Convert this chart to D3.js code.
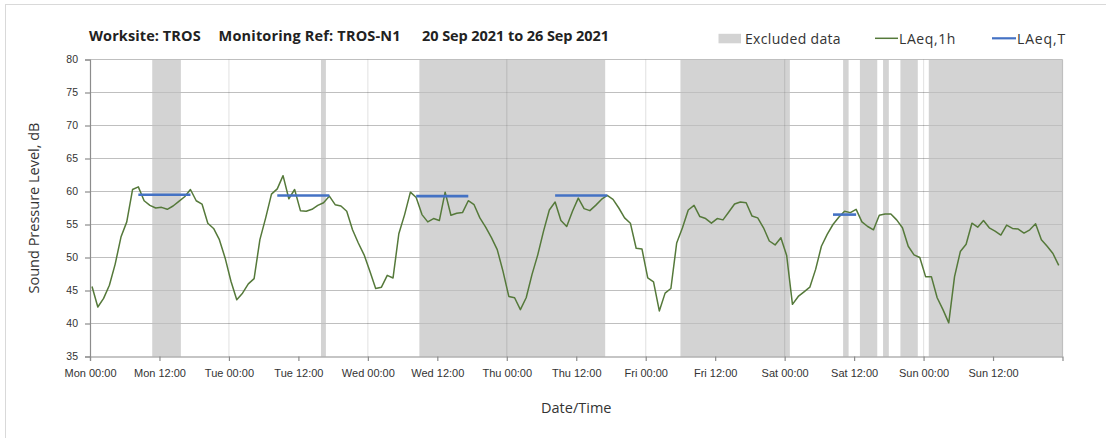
<!DOCTYPE html>
<html>
<head>
<meta charset="utf-8">
<script src="https://cdn.jsdelivr.net/npm/d3@7"></script>
<style>
  body { margin: 0; background: #fff; }
  svg { display: block; font-family: "Open Sans", "Noto Sans", sans-serif; }
</style>
</head>
<body>
<div id="chart"></div>
<script>
// hourly LAeq,1h values, one array per day (Mon 20 Sep .. Sun 26 Sep 2021)
const laeq1hMon = [45.6, 42.5, 43.8, 45.8, 49.0, 53.1, 55.4, 60.3, 60.7, 58.6, 57.9, 57.5, 57.6, 57.3, 57.8, 58.5, 59.2, 60.3, 58.6, 58.1, 55.2, 54.4, 52.7, 49.9]
const laeq1hTue = [46.4, 43.6, 44.6, 46.0, 46.8, 52.7, 56.0, 59.6, 60.4, 62.4, 58.9, 60.3, 57.1, 57.0, 57.3, 57.9, 58.3, 59.3, 58.0, 57.8, 57.0, 54.2, 52.2, 50.4]
const laeq1hWed = [47.9, 45.3, 45.5, 47.3, 46.9, 53.6, 56.5, 59.9, 59.1, 56.5, 55.4, 55.9, 55.6, 59.9, 56.4, 56.7, 56.8, 58.6, 58.0, 56.0, 54.6, 53.0, 51.2, 47.9]
const laeq1hThu = [44.1, 43.9, 42.1, 43.9, 47.4, 50.4, 54.0, 57.2, 58.4, 55.6, 54.7, 57.0, 59.0, 57.4, 57.1, 57.9, 58.8, 59.4, 58.8, 57.5, 56.0, 55.2, 51.4, 51.3]
const laeq1hFri = [46.9, 46.3, 41.9, 44.6, 45.3, 52.2, 54.5, 57.2, 57.9, 56.2, 55.9, 55.2, 55.9, 55.7, 56.9, 58.1, 58.4, 58.3, 56.3, 56.0, 54.5, 52.5, 51.9, 53.0]
const laeq1hSat = [50.3, 42.9, 44.1, 44.8, 45.5, 48.2, 51.7, 53.5, 55.0, 56.1, 57.0, 56.8, 57.3, 55.4, 54.7, 54.2, 56.4, 56.6, 56.6, 55.7, 54.5, 51.7, 50.4, 50.0]
const laeq1hSun = [47.1, 47.1, 43.9, 42.1, 40.1, 47.1, 50.9, 52.0, 55.2, 54.6, 55.6, 54.5, 54.0, 53.4, 54.9, 54.4, 54.3, 53.7, 54.2, 55.1, 52.7, 51.7, 50.6, 48.8]

// LAeq,T daytime periods (hour index from Mon 00:00)
const laeqTStart = [8, 32, 56, 80, 128]
const laeqTEnd = [17, 41, 65, 89, 132]
const laeqTValue = [59.5, 59.4, 59.3, 59.4, 56.5]

// excluded data periods, hours from Mon 00:00
const excludedStart = [10.75, 39.9, 56.9, 102, 130.1, 133, 137, 140, 144.9]
const excludedEnd = [15.7, 40.75, 89, 120.9, 131.05, 136, 138, 143, 168]

const dayNames = ['Mon', 'Tue', 'Wed', 'Thu', 'Fri', 'Sat', 'Sun']
const yTicks = [35, 40, 45, 50, 55, 60, 65, 70, 75, 80]
const xTickHours = d3.range(0, 168, 12)
const xTickLabels = xTickHours.map(h => `${dayNames[Math.floor(h / 24)]} ${h % 24 === 0 ? '00' : '12'}:00`)
const titleParts = ['Worksite: TROS', 'Monitoring Ref: TROS-N1', '20 Sep 2021 to 26 Sep 2021']
const legendLabels = ['Excluded data', 'LAeq,1h', 'LAeq,T']

const width = 1106
const height = 438
const plot = { left: 90, right: 1062.5, top: 59.5, bottom: 356.5 }
const pointOffset = 0.35

const allValues = [].concat(laeq1hMon, laeq1hTue, laeq1hWed, laeq1hThu, laeq1hFri, laeq1hSat, laeq1hSun)

// stretch a text to a given width with letter spacing (the original font is wider)
const fitWidth = (sel, target) => {
    sel.each(function () {
        const n = this.getNumberOfChars()
        const w = this.getComputedTextLength()
        d3.select(this).attr('letter-spacing', ((target - w) / n).toFixed(2))
    })
}

const svg = d3.select('#chart')
            .append('svg')
            .attr('width', width)
            .attr('height', height)

svg.append('rect')
   .attr('x', 5.5).attr('y', 4.5)
   .attr('width', 1110).attr('height', 450)
   .attr('fill', 'none')
   .attr('stroke', '#d9d9d9')

const x = d3.scaleLinear()
            .domain([0, 168])
            .range([plot.left, plot.right])

const y = d3.scaleLinear()
            .domain([35, 80])
            .range([plot.bottom, plot.top])

// excluded bands
svg.append('g')
   .selectAll('rect')
   .data(excludedStart)
   .enter()
   .append('rect')
   .attr('x', d => x(d))
   .attr('y', plot.top)
   .attr('width', (d, i) => x(excludedEnd[i]) - x(d))
   .attr('height', plot.bottom - plot.top)
   .attr('fill', '#d3d3d3')

// gridlines
svg.append('g')
   .selectAll('line')
   .data(yTicks.slice(1))
   .enter()
   .append('line')
   .attr('x1', plot.left).attr('x2', plot.right)
   .attr('y1', d => y(d)).attr('y2', d => y(d))
   .attr('stroke', '#bfbfbf')
   .attr('stroke-width', 1.2)

svg.append('g')
   .selectAll('line')
   .data(d3.range(24, 169, 24))
   .enter()
   .append('line')
   .attr('x1', d => x(d)).attr('x2', d => x(d))
   .attr('y1', plot.top).attr('y2', plot.bottom)
   .attr('stroke', d => d === 168 ? '#bfbfbf' : 'rgba(0,0,0,0.1)')
   .attr('stroke-width', 1.2)

// axes
const yAxis = svg.append('g')
   .attr('transform', `translate(${plot.left}, 0)`)
   .call(d3.axisLeft(y).tickValues(yTicks).tickSize(5).tickPadding(7))
yAxis.selectAll('text').attr('font-size', 10.5).attr('fill', '#333').attr('font-family', 'inherit')

const xAxis = svg.append('g')
   .attr('transform', `translate(0, ${plot.bottom})`)
   .call(d3.axisBottom(x).tickValues(xTickHours).tickSize(4.5).tickPadding(8)
           .tickFormat((d, i) => xTickLabels[i]))
xAxis.selectAll('text').attr('font-size', 11).attr('fill', '#333').attr('font-family', 'inherit')

svg.selectAll('.domain, .tick line').attr('stroke', '#8c8c8c').attr('stroke-width', 1.2)

// LAeq,1h line
const line = d3.line()
               .x((_, i) => x(i + pointOffset))
               .y(d => y(d))

svg.append('path')
   .datum(allValues)
   .attr('fill', 'none')
   .attr('stroke', '#55793a')
   .attr('stroke-width', 1.5)
   .attr('stroke-linejoin', 'round')
   .attr('d', line)

// LAeq,T segments
svg.append('g')
   .selectAll('line')
   .data(laeqTValue)
   .enter()
   .append('line')
   .attr('x1', (_, i) => x(laeqTStart[i] + pointOffset))
   .attr('x2', (_, i) => x(laeqTEnd[i] + pointOffset))
   .attr('y1', d => y(d)).attr('y2', d => y(d))
   .attr('stroke', '#4472c4')
   .attr('stroke-width', 2.6)

// axis titles
svg.append('text')
   .attr('transform', `translate(39, ${(plot.top + plot.bottom) / 2}) rotate(-90)`)
   .attr('text-anchor', 'middle')
   .attr('font-size', 14.5)
   .attr('fill', '#333')
   .text('Sound Pressure Level, dB')

svg.append('text')
   .attr('x', (plot.left + plot.right) / 2)
   .attr('y', 413)
   .attr('text-anchor', 'middle')
   .attr('font-size', 14.5)
   .attr('fill', '#333')
   .text('Date/Time')

// title
const titleX = [89, 218.6, 422]
const titleEnd = [200.7, 400.7, 609]
svg.append('g')
   .selectAll('text')
   .data(titleParts)
   .enter()
   .append('text')
   .attr('x', (_, i) => titleX[i])
   .attr('y', 41)
   .attr('font-size', 14.5)
   .attr('font-weight', 'bold')
   .attr('fill', '#222')
   .text(d => d)
   .each(function (_, i) { fitWidth(d3.select(this), titleEnd[i] - titleX[i]) })

// legend
const legend = svg.append('g').attr('font-size', 14).attr('fill', '#333')
legend.append('rect')
      .attr('x', 718.5).attr('y', 33.8).attr('width', 22.5).attr('height', 9.5)
      .attr('fill', '#d3d3d3')
legend.append('line')
      .attr('x1', 875).attr('x2', 898).attr('y1', 38.3).attr('y2', 38.3)
      .attr('stroke', '#55793a').attr('stroke-width', 1.5)
legend.append('line')
      .attr('x1', 992).attr('x2', 1016).attr('y1', 38.3).attr('y2', 38.3)
      .attr('stroke', '#4472c4').attr('stroke-width', 2.2)

const legendX = [745, 899, 1017]
const legendEnd = [841, 956, 1066]
legend.selectAll('text')
      .data(legendLabels)
      .enter()
      .append('text')
      .attr('x', (_, i) => legendX[i])
      .attr('y', 43.5)
      .text(d => d)
      .each(function (_, i) { fitWidth(d3.select(this), legendEnd[i] - legendX[i]) })
</script>
</body>
</html>
